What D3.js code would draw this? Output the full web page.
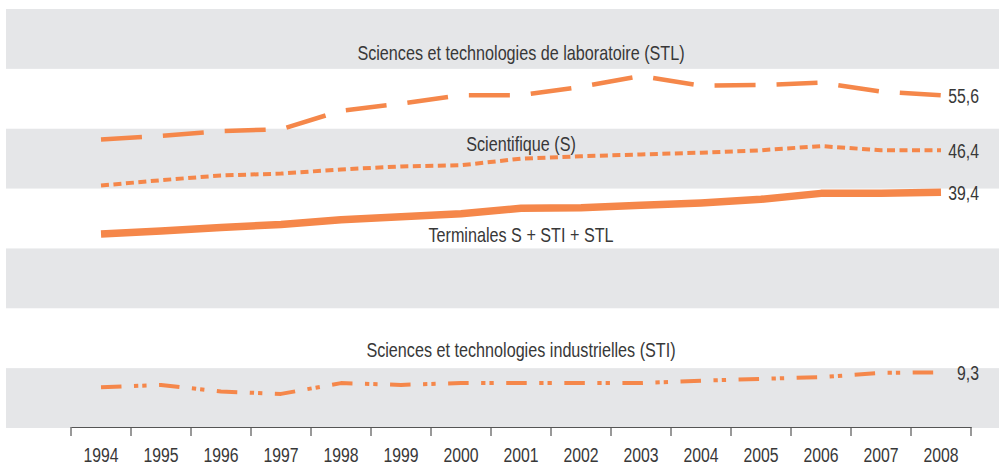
<!DOCTYPE html>
<html>
<head>
<meta charset="utf-8">
<script src="https://cdn.jsdelivr.net/npm/d3@7"></script>
<style>
  body { margin: 0; background: #fff; }
  text { font-family: "Liberation Sans", Arial, sans-serif; fill: #383838; }
</style>
</head>
<body>
<script>
// years on the x axis
const years = [1994, 1995, 1996, 1997, 1998, 1999, 2000, 2001, 2002, 2003, 2004, 2005, 2006, 2007, 2008];

// shares (%)
const stlValues = [48.2, 48.8, 49.6, 49.9, 53.0, 54.2, 55.6, 55.6, 57.0, 58.8, 57.2, 57.3, 57.7, 56.2, 55.6];
const sValues = [40.5, 41.4, 42.2, 42.5, 43.2, 43.7, 43.9, 45.0, 45.4, 45.7, 46.0, 46.4, 47.1, 46.4, 46.4];
const totalValues = [32.4, 32.9, 33.5, 34.0, 34.8, 35.3, 35.8, 36.7, 36.8, 37.2, 37.6, 38.2, 39.2, 39.2, 39.4];
const stiValues = [6.8, 7.2, 6.1, 5.7, 7.5, 7.2, 7.5, 7.5, 7.5, 7.5, 7.9, 8.2, 8.5, 9.2, 9.3];

const seriesNames = [
  'Sciences et technologies de laboratoire (STL)',
  'Scientifique (S)',
  'Terminales S + STI + STL',
  'Sciences et technologies industrielles (STI)'
];
const endLabels = ['55,6', '46,4', '39,4', '9,3'];

// gray stripes start every 20 points
const stripeStarts = [0, 20, 40, 60];

const width = 999;
const height = 470;
const orange = '#f5874a';
const squeeze = 0.81; // no condensed font installed, so squeeze Liberation Sans

const svg = d3.select('body')
  .append('svg')
  .attr('width', width)
  .attr('height', height);

const x = d3.scaleBand().domain(years).range([71, 971]).padding(0);
const y = d3.scaleLinear().domain([0, 70]).range([428, 9]);
const cx = d => x(d) + x.bandwidth() / 2;

// background stripes
svg.append('g')
  .selectAll('rect')
  .data(stripeStarts)
  .enter()
  .append('rect')
  .attr('x', 6)
  .attr('width', width - 6)
  .attr('y', d => y(d + 10))
  .attr('height', d => y(d) - y(d + 10))
  .attr('fill', '#e5e6e8');

// lines: style per series
const series = [
  { values: stlValues, width: 4.5, dash: '41,21' },
  { values: sValues, width: 4, dash: '8,4.5' },
  { values: totalValues, width: 7.5, dash: null },
  { values: stiValues, width: 4, dash: '20.5,12.5,4.3,4,4.3,12.5' }
];

const line = d3.line()
  .x((d, i) => cx(years[i]))
  .y(d => y(d));

svg.append('g')
  .selectAll('path')
  .data(series)
  .enter()
  .append('path')
  .attr('d', d => line(d.values))
  .attr('fill', 'none')
  .attr('stroke', orange)
  .attr('stroke-width', d => d.width)
  .attr('stroke-dasharray', d => d.dash)
  .attr('stroke-linejoin', 'round');

// end values
svg.append('g')
  .selectAll('text')
  .data(series)
  .enter()
  .append('text')
  .attr('transform', d => `translate(979,${y(d.values[d.values.length - 1]) + 8}) scale(${squeeze},1)`)
  .attr('text-anchor', 'end')
  .style('font-size', '19.5px')
  .text((d, i) => endLabels[i]);

// series names, centred on the plot
const nameY = [59.5, 151, 242, 357];
svg.append('g')
  .selectAll('text')
  .data(seriesNames)
  .enter()
  .append('text')
  .attr('transform', (d, i) => `translate(521,${nameY[i]}) scale(0.83,1)`)
  .attr('text-anchor', 'middle')
  .style('font-size', '19.5px')
  .text(d => d);

// x axis: labels in the middle of each year, ticks on the edges
const xAxis = d3.axisBottom(x).tickSize(0);
const axisG = svg.append('g')
  .attr('transform', 'translate(0,427)')
  .call(xAxis);
axisG.select('.domain').attr('stroke', '#555').attr('stroke-width', 1.2);
axisG.selectAll('.tick text')
  .attr('y', 35)
  .attr('dy', null)
  .attr('transform', `scale(${squeeze},1)`)
  .style('font-size', '19.5px')
  .attr('fill', '#383838');

axisG.selectAll('.edge')
  .data(years.map(d => x(d)).concat([x.range()[1]]))
  .enter()
  .append('line')
  .attr('class', 'edge')
  .attr('x1', d => d)
  .attr('x2', d => d)
  .attr('y1', 0)
  .attr('y2', 9)
  .attr('stroke', '#555')
  .attr('stroke-width', 1.2);
</script>
</body>
</html>
